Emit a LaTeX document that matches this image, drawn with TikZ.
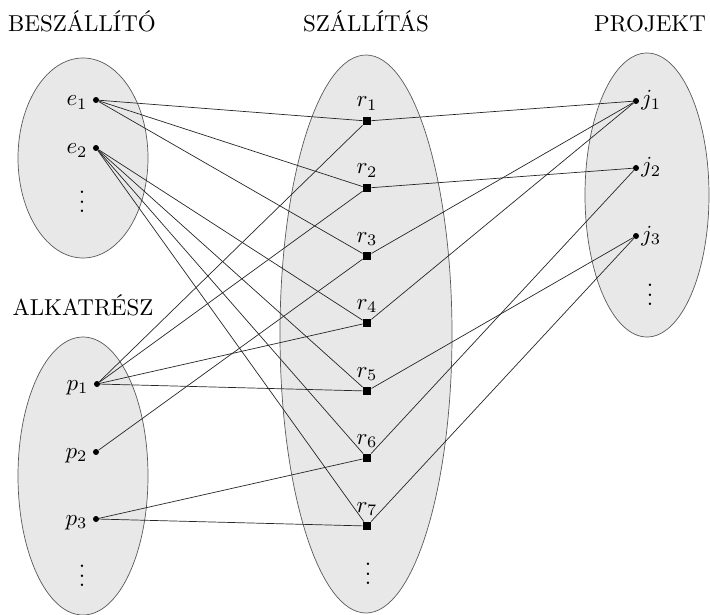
\documentclass[tikz,border=0pt]{standalone}
\usetikzlibrary{shapes.geometric}
\begin{document}
\begin{tikzpicture}[x=1pt,y=-1pt,
  font=\normalsize,
  setshape/.style={ellipse, draw=black!65, fill=black!9, line width=0.7pt, inner sep=0pt},
  dotnode/.style={circle, fill=black, inner sep=0pt, minimum size=6pt},
  sqnode/.style={rectangle, fill=black, inner sep=0pt, minimum size=8.5pt},
  lbl/.style={inner sep=0pt, scale=2.3},
  title/.style={inner sep=0pt, anchor=base, scale=2.3},
  link/.style={draw=black!85, line width=0.7pt}]
\useasboundingbox (0,0) rectangle (710,615);

% the four sets
\node[setshape, minimum width=130pt, minimum height=200pt] (setE) at (83,158) {};
\node[setshape, minimum width=130pt, minimum height=278pt] (setP) at (83,476) {};
\node[setshape, minimum width=172pt, minimum height=558pt] (setR) at (366,334) {};
\node[setshape, minimum width=124pt, minimum height=284pt] (setJ) at (647,195) {};

% headings
\node[title] (tE) at (82,32) {BESZÁLLÍTÓ};
\node[title] (tR) at (366,32) {SZÁLLÍTÁS};
\node[title] (tJ) at (650,32) {PROJEKT};
\node[title] (tP) at (83,315) {ALKATRÉSZ};

% suppliers
\node[dotnode] (e1) at (96,100) {};
\node[dotnode] (e2) at (96,148) {};
\node[lbl, anchor=base east] at ([xshift=-8pt,yshift=-6pt]e1.center) {$e_1$};
\node[lbl, anchor=base east] at ([xshift=-8pt,yshift=-6pt]e2.center) {$e_2$};
\node[lbl] (eDots) at (82,195) {$\vdots$};

% parts
\node[dotnode] (p1) at (97,384) {};
\node[dotnode] (p2) at (96,452) {};
\node[dotnode] (p3) at (96,519) {};
\node[lbl, anchor=base east] at ([xshift=-8pt,yshift=-6pt]p1.center) {$p_1$};
\node[lbl, anchor=base east] at ([xshift=-8pt,yshift=-6pt]p2.center) {$p_2$};
\node[lbl, anchor=base east] at ([xshift=-8pt,yshift=-6pt]p3.center) {$p_3$};
\node[lbl] (pDots) at (82,569) {$\vdots$};

% shipments
\foreach \i/\y in {1/121,2/188,3/256,4/323,5/391,6/458,7/526}{
  \node[sqnode] (r\i) at (367,\y) {};
  \node[lbl, anchor=base] at ([yshift=14pt]r\i.center) {$r_{\i}$};
}
\node[lbl] (rDots) at (368,567) {$\vdots$};

% projects
\node[dotnode] (j1) at (636,101) {};
\node[dotnode] (j2) at (636,168) {};
\node[dotnode] (j3) at (636,236) {};
\node[lbl, anchor=base west] at ([xshift=5pt,yshift=-5pt]j1.center) {$j_1$};
\node[lbl, anchor=base west] at ([xshift=5pt,yshift=-5pt]j2.center) {$j_2$};
\node[lbl, anchor=base west] at ([xshift=5pt,yshift=-5pt]j3.center) {$j_3$};
\node[lbl] (jDots) at (650,288) {$\vdots$};

% supplier -> shipment
\draw[link] (e1) -- (r1);
\draw[link] (e1) -- (r2);
\draw[link] (e1) -- (r3);
\draw[link] (e2) -- (r4);
\draw[link] (e2) -- (r5);
\draw[link] (e2) -- (r6);
\draw[link] (e2) -- (r7);

% part -> shipment
\draw[link] (p1) -- (r1);
\draw[link] (p1) -- (r2);
\draw[link] (p1) -- (r4);
\draw[link] (p1) -- (r5);
\draw[link] (p2) -- (r3);
\draw[link] (p3) -- (r6);
\draw[link] (p3) -- (r7);

% shipment -> project
\draw[link] (r1) -- (j1);
\draw[link] (r2) -- (j2);
\draw[link] (r3) -- (j1);
\draw[link] (r4) -- (j1);
\draw[link] (r5) -- (j3);
\draw[link] (r6) -- (j2);
\draw[link] (r7) -- (j3);
\end{tikzpicture}
\end{document}
